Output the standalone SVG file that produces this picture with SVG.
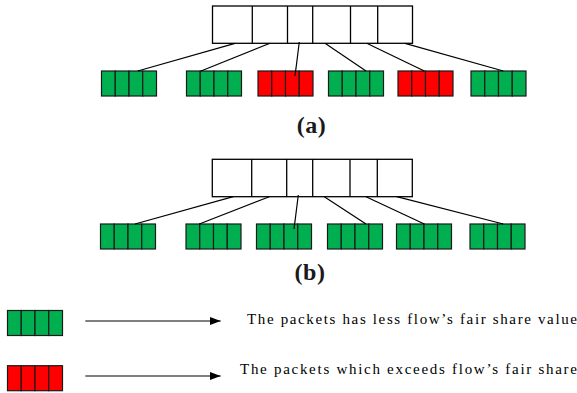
<svg xmlns="http://www.w3.org/2000/svg" width="577" height="393" viewBox="0 0 577 393">
<style>
.top{fill:#fff;stroke:#000;stroke-width:1.3}
.div{stroke:#000;stroke-width:1.3}
.g{fill:#00B050;stroke:#1a1a1a;stroke-width:1.2}
.r{fill:#FF0000;stroke:#1a1a1a;stroke-width:1.2}
.conn line{stroke:#000;stroke-width:1.2}
.lbl{font-family:"Liberation Serif",serif;font-weight:bold;font-size:24px;fill:#1a1a1a;text-anchor:middle;letter-spacing:0.5px}
.leg{font-family:"Liberation Serif",serif;font-size:15px;fill:#000}
</style>
<defs>
<g id="gq"><rect class="g" x="0" y="0" width="13.75" height="25"/><rect class="g" x="13.75" y="0" width="13.75" height="25"/><rect class="g" x="27.5" y="0" width="13.75" height="25"/><rect class="g" x="41.25" y="0" width="13.75" height="25"/></g>
<g id="rq"><rect class="r" x="0" y="0" width="13.75" height="25"/><rect class="r" x="13.75" y="0" width="13.75" height="25"/><rect class="r" x="27.5" y="0" width="13.75" height="25"/><rect class="r" x="41.25" y="0" width="13.75" height="25"/></g>
<marker id="ah" markerWidth="11" markerHeight="8" refX="11" refY="4" orient="auto" markerUnits="userSpaceOnUse"><path d="M0,0 L11,4 L0,8 z" fill="#000"/></marker>
</defs>

<g id="top-a">
<rect class="top" x="212.5" y="6" width="200" height="37.3"/>
<line class="div" x1="252.3" y1="6" x2="252.3" y2="43.3"/>
<line class="div" x1="287.5" y1="6" x2="287.5" y2="43.3"/>
<line class="div" x1="312.7" y1="6" x2="312.7" y2="43.3"/>
<line class="div" x1="350.5" y1="6" x2="350.5" y2="43.3"/>
<line class="div" x1="377.7" y1="6" x2="377.7" y2="43.3"/>
</g>
<g id="qa1"><use href="#gq" x="101.5" y="71"/></g>
<g id="qa2"><use href="#gq" x="186.5" y="71"/></g>
<g id="qa3"><use href="#rq" x="258" y="71"/></g>
<g id="qa4"><use href="#gq" x="328.5" y="71"/></g>
<g id="qa5"><use href="#rq" x="398" y="71"/></g>
<g id="qa6"><use href="#gq" x="471" y="71"/></g>

<g id="top-b">
<rect class="top" x="212.3" y="159.3" width="200" height="37.4"/>
<line class="div" x1="251.7" y1="159.3" x2="251.7" y2="196.7"/>
<line class="div" x1="286.7" y1="159.3" x2="286.7" y2="196.7"/>
<line class="div" x1="312.7" y1="159.3" x2="312.7" y2="196.7"/>
<line class="div" x1="350" y1="159.3" x2="350" y2="196.7"/>
<line class="div" x1="377.3" y1="159.3" x2="377.3" y2="196.7"/>
</g>
<g id="qb1"><use href="#gq" x="100.5" y="224"/></g>
<g id="qb2"><use href="#gq" x="186" y="224"/></g>
<g id="qb3"><use href="#gq" x="256.5" y="224"/></g>
<g id="qb4"><use href="#gq" x="327.5" y="224"/></g>
<g id="qb5"><use href="#gq" x="396.5" y="224"/></g>
<g id="qb6"><use href="#gq" x="470" y="224"/></g>

<g id="connectors" class="conn">
<line x1="235" y1="43.3" x2="137.7" y2="71"/>
<line x1="270" y1="43.3" x2="201" y2="71"/>
<line x1="299.3" y1="42" x2="295" y2="76"/>
<line x1="325" y1="43.3" x2="366" y2="71"/>
<line x1="366.7" y1="43.3" x2="424.3" y2="71"/>
<line x1="405" y1="43.3" x2="503.3" y2="71"/>
<line x1="233.3" y1="196.7" x2="135" y2="224"/>
<line x1="269.3" y1="196.7" x2="199.3" y2="224"/>
<line x1="298.3" y1="195" x2="294" y2="229"/>
<line x1="324.3" y1="196.7" x2="366" y2="224"/>
<line x1="366" y1="196.7" x2="424.3" y2="224"/>
<line x1="396.7" y1="196.7" x2="503.3" y2="224"/>
<line x1="85.3" y1="321" x2="220.7" y2="321" marker-end="url(#ah)"/>
<line x1="85.3" y1="376" x2="220.7" y2="376" marker-end="url(#ah)"/>
</g>

<text class="lbl" x="311.5" y="132.5">(a)</text>
<text class="lbl" x="310" y="280">(b)</text>

<g id="legend-green"><use href="#gq" x="7.5" y="310.5"/></g>
<g id="legend-red"><use href="#rq" x="7.5" y="365.7"/></g>
<text class="leg" x="247" y="324" textLength="330" lengthAdjust="spacing">The packets has less flow’s fair share value</text>
<text class="leg" x="240" y="374" textLength="337" lengthAdjust="spacing">The packets which exceeds flow’s fair share</text>
</svg>
